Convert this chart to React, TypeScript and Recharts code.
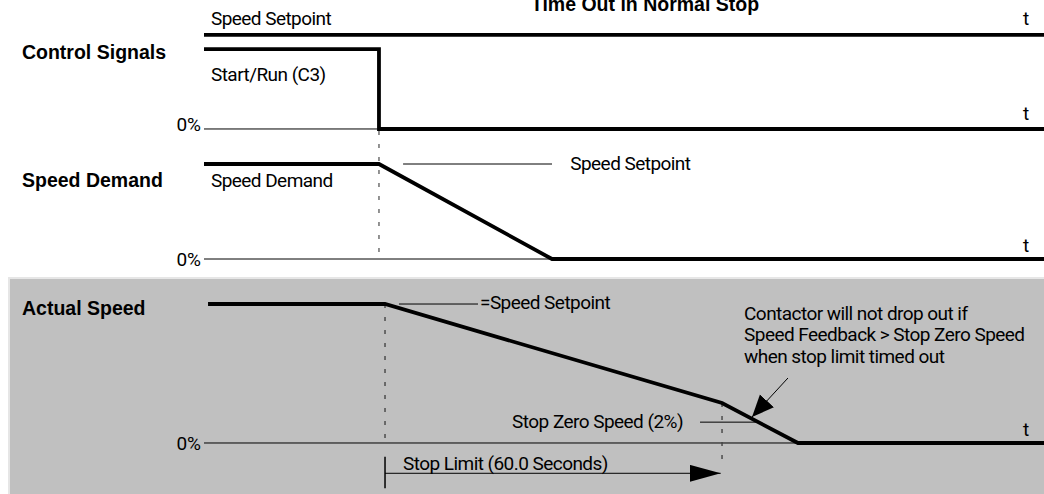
import React from 'react'
import { ComposedChart, Line, XAxis, YAxis, ReferenceDot, ReferenceLine } from 'recharts'

// Time runs 0..100 across the trace area; levels are % of full speed.
const FONT = 'Roboto, Arial, sans-serif'
const BOLD_FONT = '"Liberation Sans", Arial, sans-serif'

// --- Control Signals panel
const SETPOINT_TOP = [{ t: 0, v: 100 }, { t: 100, v: 100 }]
const START_RUN = [{ t: 0, v: 85 }, { t: 20.83, v: 85 }, { t: 20.83, v: 0 }, { t: 100, v: 0 }]
const CONTROL_TEXT = [
  { t: 52.5, v: 133, text: 'Time Out in Normal Stop', pos: 'center', bold: true },
  { t: 0.83, v: 118, text: 'Speed Setpoint', pos: 'right' },
  { t: 97.5, v: 118, text: 't', pos: 'right' },
  { t: -21.67, v: 81.4, text: 'Control Signals', pos: 'right', bold: true },
  { t: 0.83, v: 58.7, text: 'Start/Run (C3)', pos: 'right' },
  { t: 97.5, v: 17, text: 't', pos: 'right' },
]

// --- Speed Demand panel
const SPEED_DEMAND = [{ t: 0, v: 100 }, { t: 20.83, v: 100 }, { t: 41.43, v: 0 }, { t: 100, v: 0 }]
const DEMAND_LEADER = [{ t: 23.7, v: 100 }, { t: 41.43, v: 100 }]
const DEMAND_STOP_MARK = [{ t: 20.83, v: 134.7 }, { t: 20.83, v: 0 }]
const DEMAND_TEXT = [
  { t: -21.67, v: 82.8, text: 'Speed Demand', pos: 'right', bold: true },
  { t: 0.83, v: 82.8, text: 'Speed Demand', pos: 'right' },
  { t: 43.6, v: 101, text: 'Speed Setpoint', pos: 'right' },
  { t: 97.5, v: 14.7, text: 't', pos: 'right' },
]

// --- Actual Speed panel
const ACTUAL_SPEED = [{ t: 0.48, v: 100 }, { t: 21.55, v: 100 }, { t: 61.67, v: 28.8 }, { t: 70.71, v: 0 }, { t: 100, v: 0 }]
const ACTUAL_LEADER = [{ t: 23.21, v: 100 }, { t: 32.62, v: 100 }]
const ACTUAL_STOP_MARK = [{ t: 21.55, v: 100 }, { t: 21.55, v: 0 }]
const TIMEOUT_MARK = [{ t: 61.67, v: 28.8 }, { t: 61.67, v: -17.3 }]
const ZERO_SPEED_LEADER = [{ t: 59.05, v: 15 }, { t: 65.95, v: 15 }]
const STOP_LIMIT_ARROW = [{ t: 21.55, v: -21.8 }, { t: 61.51, v: -21.8 }]
const STOP_LIMIT_TICK = [{ t: 21.55, v: -9.9 }, { t: 21.55, v: -32.6 }]
const CONTACTOR_ARROW = [{ t: 69.52, v: 46.76 }, { t: 65.24, v: 18.7 }]
const ACTUAL_TEXT = [
  { t: -21.67, v: 96.9, text: 'Actual Speed', pos: 'right', bold: true },
  { t: 32.86, v: 101.3, text: '=Speed Setpoint', pos: 'right' },
  { t: 64.29, v: 93.5, text: 'Contactor will not drop out if', pos: 'right' },
  { t: 64.29, v: 78.1, text: 'Speed Feedback > Stop Zero Speed', pos: 'right' },
  { t: 64.29, v: 62.6, text: 'when stop limit timed out', pos: 'right' },
  { t: 57.02, v: 15.3, text: 'Stop Zero Speed (2%)', pos: 'left' },
  { t: 97.5, v: 10, text: 't', pos: 'right' },
  { t: 23.69, v: -14.4, text: 'Stop Limit (60.0 Seconds)', pos: 'right' },
]

const W = 1044

function notes(list, key) {
  return list.map((n, i) => (
    <ReferenceDot
      key={key + i}
      x={n.t}
      y={n.v}
      r={0}
      stroke="none"
      fill="none"
      ifOverflow="visible"
      label={{
        value: n.text,
        position: n.pos,
        offset: 0,
        fill: '#000',
        fontSize: n.bold ? 19.5 : 19,
        fontWeight: n.bold ? 700 : 400,
        fontFamily: n.bold ? BOLD_FONT : FONT,
        letterSpacing: n.bold ? 0 : -0.55,
      }}
    />
  ))
}

function trace(data, key, opts = {}) {
  return (
    <Line
      key={key}
      data={data}
      dataKey="v"
      type="linear"
      stroke={opts.stroke || '#000'}
      strokeWidth={opts.width || 1}
      strokeDasharray={opts.dash}
      markerEnd={opts.marker}
      dot={false}
      activeDot={false}
      isAnimationActive={false}
    />
  )
}

function Panel({ top, height, domain, children }) {
  return (
    <div style={{ position: 'absolute', left: 0, top, width: W, height }}>
      <ComposedChart width={W} height={height} margin={{ top: 0, right: 0, bottom: 0, left: 0 }}>
        <defs>
          <marker id="headLong" markerUnits="userSpaceOnUse" markerWidth="32" markerHeight="18" refX="31" refY="8.5" orient="auto">
            <path d="M0,0 L31,8.5 L0,17 z" fill="#000" />
          </marker>
          <marker id="headShort" markerUnits="userSpaceOnUse" markerWidth="24" markerHeight="20" refX="22" refY="9.5" orient="auto">
            <path d="M0,0 L22,9.5 L0,19 z" fill="#000" />
          </marker>
        </defs>
        <XAxis type="number" dataKey="t" domain={[0, 100]} allowDataOverflow hide />
        <YAxis
          type="number"
          domain={domain}
          allowDataOverflow
          ticks={[0]}
          tickFormatter={() => '0%'}
          width={204}
          axisLine={false}
          tickLine={false}
          tickSize={0}
          tickMargin={3}
          tick={{ fill: '#000', fontSize: 19, fontFamily: FONT }}
        />
        <ReferenceLine y={0} stroke="#000" strokeWidth={1} />
        {children}
      </ComposedChart>
    </div>
  )
}

export default function App() {
  return (
    <div style={{ position: 'absolute', left: 0, top: 0, width: W, height: 494, background: '#fff', overflow: 'hidden' }}>
      <div style={{ position: 'absolute', left: 8, top: 277, width: W - 8, height: 217, background: '#c0c0c0', borderTop: '2px solid #e6e6e6', borderLeft: '2px solid #e6e6e6', boxSizing: 'border-box' }} />
      <Panel top={0} height={135} domain={[-6.4, 137.2]}>
        {trace(SETPOINT_TOP, 'sp', { width: 3.8 })}
        {trace(START_RUN, 'run', { width: 3.8 })}
        {notes(CONTROL_TEXT, 'c')}
      </Panel>
      <Panel top={130} height={149} domain={[-21.05, 135.8]}>
        {trace(DEMAND_STOP_MARK, 'dsm', { stroke: '#666', dash: '4 9', width: 1.4 })}
        {trace(DEMAND_LEADER, 'dl')}
        {trace(SPEED_DEMAND, 'sd', { width: 3.8 })}
        {notes(DEMAND_TEXT, 'd')}
      </Panel>
      <Panel top={279} height={215} domain={[-36.7, 118]}>
        {trace(ACTUAL_STOP_MARK, 'asm', { stroke: '#444', dash: '4 9', width: 1.4 })}
        {trace(TIMEOUT_MARK, 'tm', { stroke: '#444', dash: '4 9', width: 1.4 })}
        {trace(ACTUAL_LEADER, 'al')}
        {trace(ZERO_SPEED_LEADER, 'zl')}
        {trace(STOP_LIMIT_TICK, 'slt', { width: 1.5 })}
        {trace(STOP_LIMIT_ARROW, 'sla', { marker: 'url(#headLong)' })}
        {trace(CONTACTOR_ARROW, 'ca', { marker: 'url(#headShort)' })}
        {trace(ACTUAL_SPEED, 'as', { width: 3.8 })}
        {notes(ACTUAL_TEXT, 'a')}
      </Panel>
    </div>
  )
}
